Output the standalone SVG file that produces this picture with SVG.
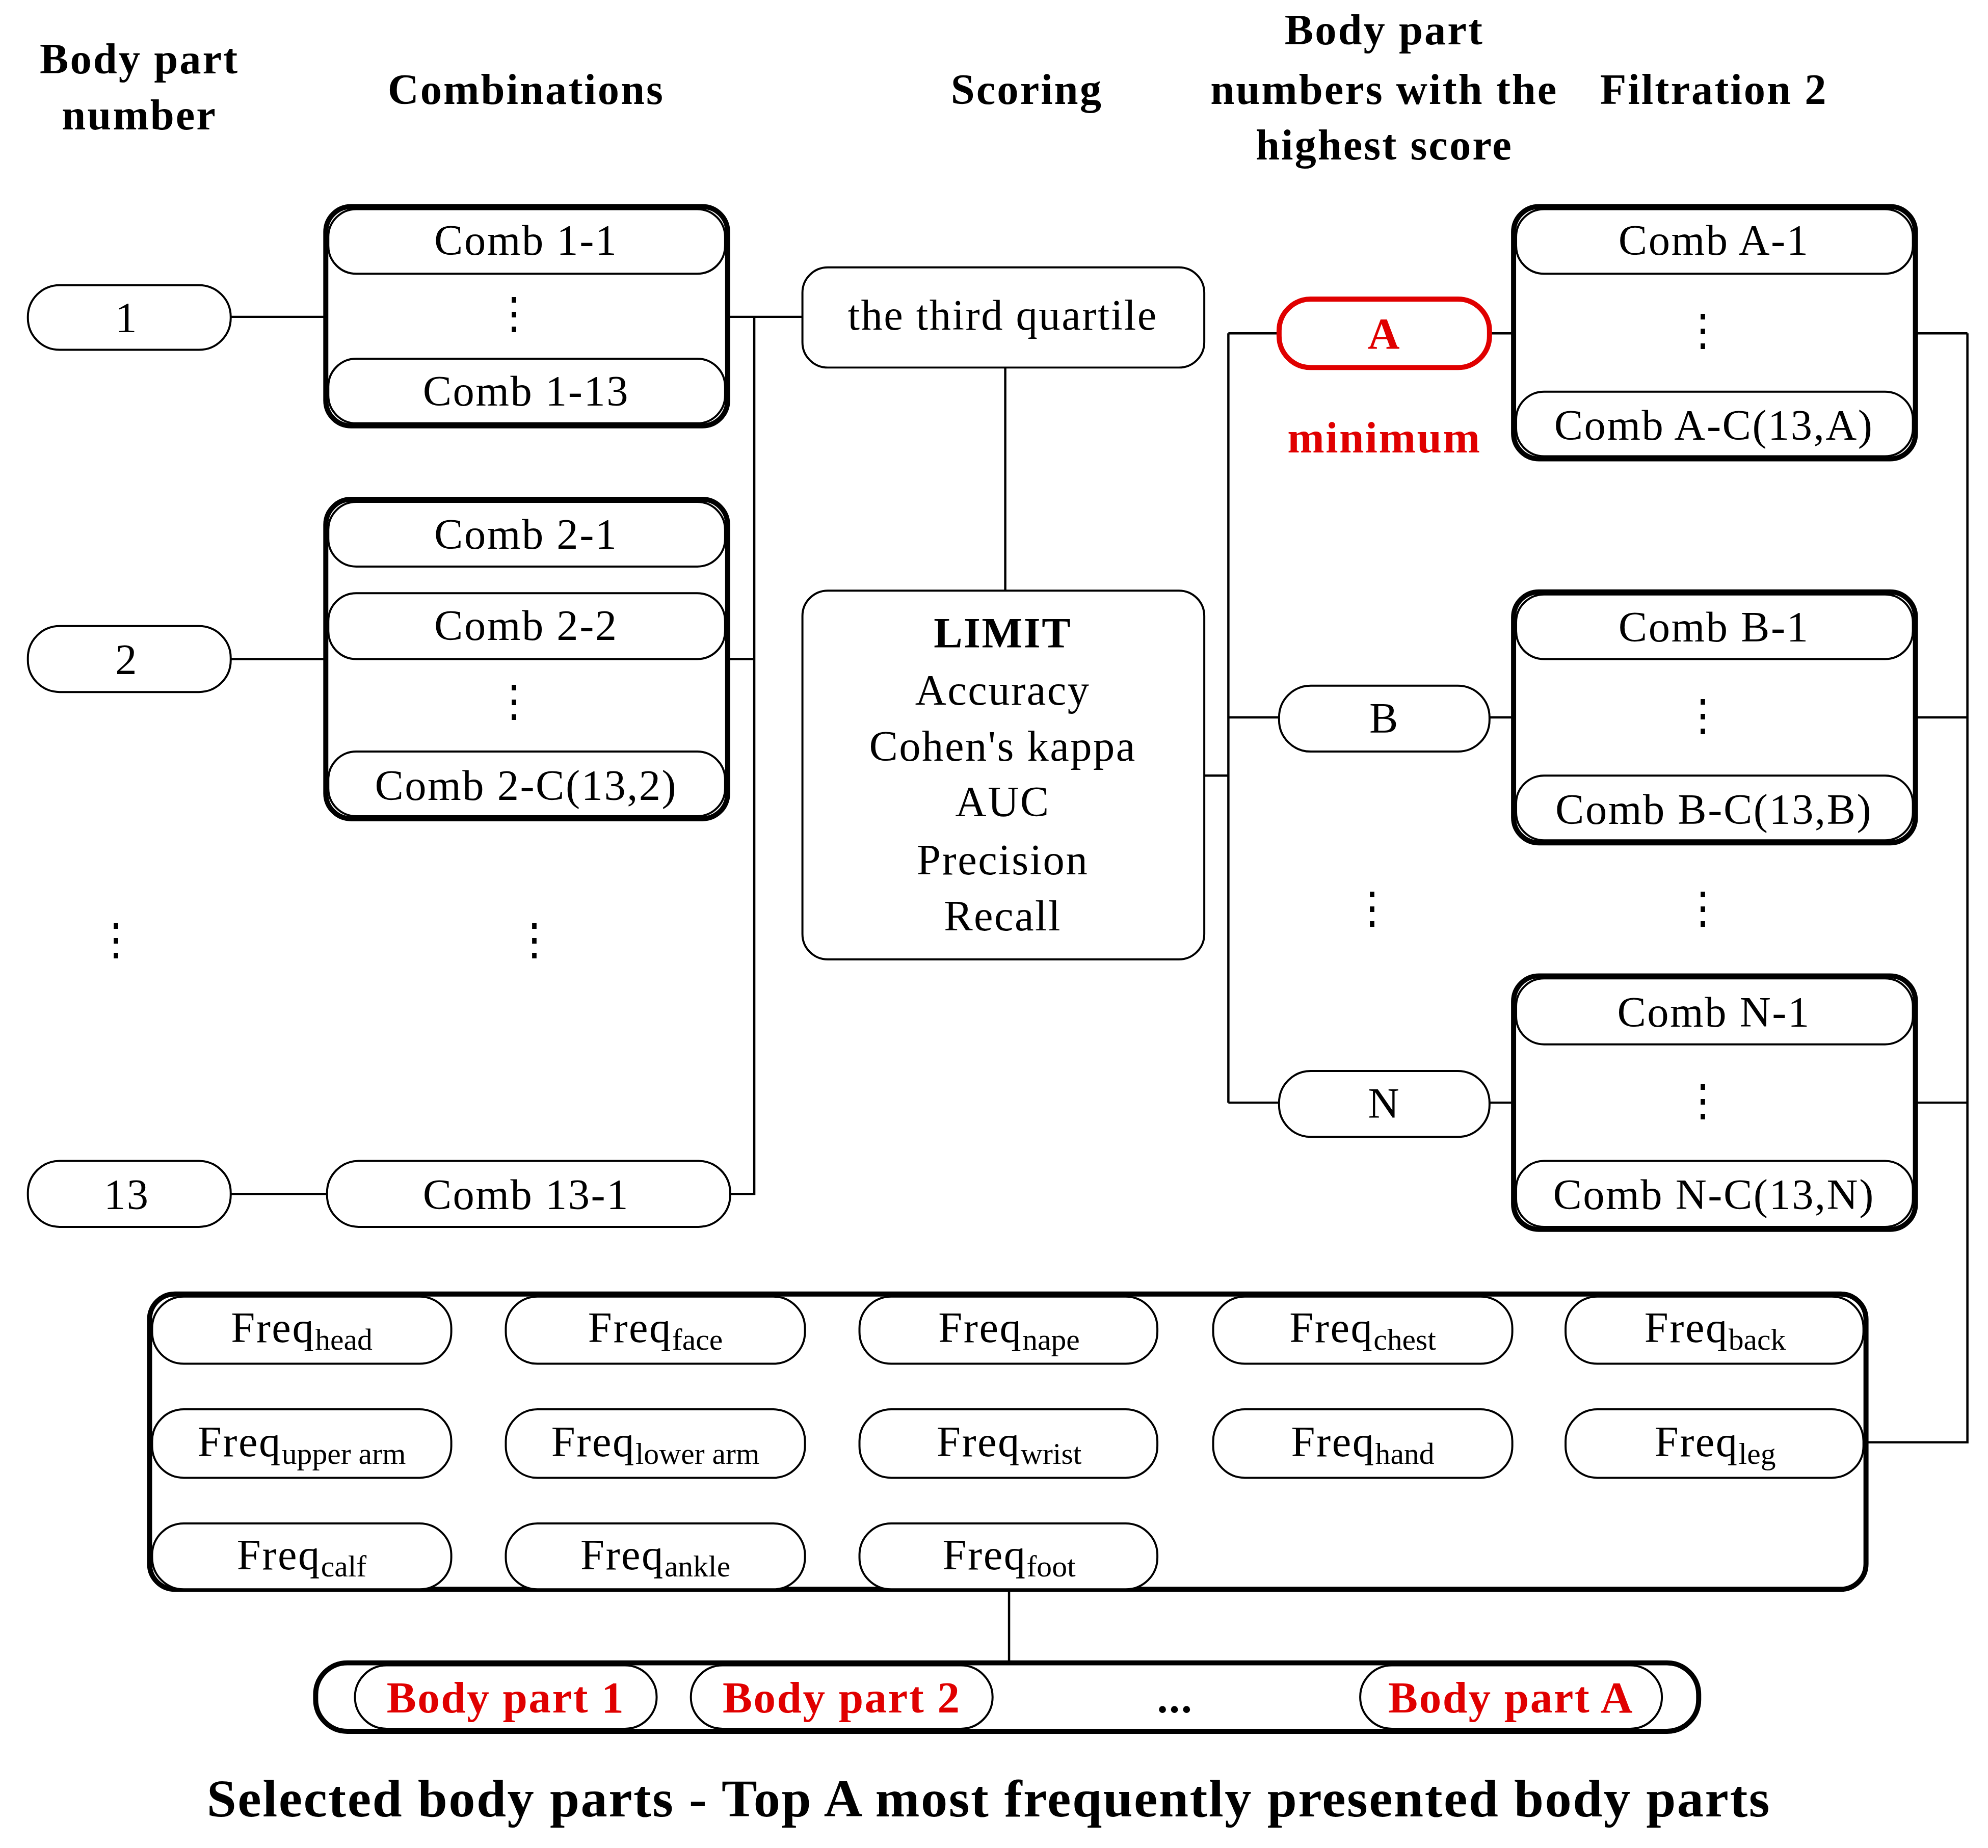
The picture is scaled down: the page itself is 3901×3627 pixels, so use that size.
<svg xmlns="http://www.w3.org/2000/svg" width="3901" height="3627" viewBox="0 0 3901 3627">
<style>
text{font-family:"Liberation Serif","Times New Roman",serif;fill:#000;text-anchor:middle;letter-spacing:1px}
.h{font-weight:bold;font-size:34px;letter-spacing:1.2px}
.t{font-size:34px}
.p{fill:#fff;stroke:#000;stroke-width:1.6}
.g{fill:#fff;stroke:#000;stroke-width:4}
.r{font-weight:bold;fill:#e00000;font-size:35px}
.c{fill:none;stroke:#000;stroke-width:1.8}
.s{font-size:24px;letter-spacing:0}
</style>
<rect width="3901" height="3627" fill="#fff"/>
<g transform="scale(2.4875)">
<g id="headers">
<text class="h" x="110" y="58">Body part</text><text class="h" x="110" y="102">number</text>
<text class="h" x="415" y="82">Combinations</text>
<text class="h" x="810" y="82">Scoring</text>
<text class="h" x="1092" y="35">Body part</text><text class="h" x="1092" y="82">numbers with the</text><text class="h" x="1092" y="126">highest score</text>
<text class="h" x="1352" y="82">Filtration 2</text>
</g>
<g id="connectors">
<path class="c" d="M182 250H257M182 520H257M182 942H258M574 250H595V942H576M574 520H595M595 250H633M793 290V466M950 612H969M969 263V870M969 263H1009M969 566H1009M969 870H1009M1175 263H1194M1175 566H1194M1175 870H1194M1511 263H1552M1511 566H1552M1511 870H1552M1552 263V1138H1472M796 1254V1312"/>
</g>
<g id="n1"><rect class="p" x="22" y="225" width="160" height="51" rx="25"/><text class="t" x="100" y="262">1</text></g>
<g id="n2"><rect class="p" x="22" y="494" width="160" height="52" rx="25"/><text class="t" x="100" y="532">2</text></g>
<g id="n13"><rect class="p" x="22" y="916" width="160" height="52" rx="25"/><text class="t" x="100" y="954">13</text></g>
<g id="dotsL"><text class="t" x="92" y="753">⋮</text><text class="t" x="422" y="753">⋮</text></g>
<g id="comb1"><rect class="g" x="257" y="163" width="317" height="173" rx="20"/>
<rect class="p" x="259" y="165" width="313" height="51" rx="22"/><text class="t" x="415" y="201">Comb 1-1</text>
<text class="t" x="406" y="259">⋮</text>
<rect class="p" x="259" y="283" width="313" height="51" rx="22"/><text class="t" x="415" y="320">Comb 1-13</text></g>
<g id="comb2"><rect class="g" x="257" y="394" width="317" height="252" rx="20"/>
<rect class="p" x="259" y="396" width="313" height="51" rx="22"/><text class="t" x="415" y="433">Comb 2-1</text>
<rect class="p" x="259" y="468" width="313" height="52" rx="22"/><text class="t" x="415" y="505">Comb 2-2</text>
<text class="t" x="406" y="565">⋮</text>
<rect class="p" x="259" y="593" width="313" height="51" rx="22"/><text class="t" x="415" y="631">Comb 2-C(13,2)</text></g>
<g id="comb13"><rect class="p" x="258" y="916" width="318" height="52" rx="25"/><text class="t" x="415" y="954">Comb 13-1</text></g>
<g id="q3"><rect class="p" x="633" y="211" width="317" height="79" rx="20"/><text class="t" x="791" y="260">the third quartile</text></g>
<g id="limit"><rect class="p" x="633" y="466" width="317" height="291" rx="20"/>
<text class="t" x="791" y="511" font-weight="bold">LIMIT</text><text class="t" x="791" y="556">Accuracy</text><text class="t" x="791" y="600">Cohen's kappa</text><text class="t" x="791" y="644">AUC</text><text class="t" x="791" y="690">Precision</text><text class="t" x="791" y="734">Recall</text></g>
<g id="nA"><rect x="1009" y="236" width="166" height="54" rx="25" fill="#fff" stroke="#e00000" stroke-width="4"/><text class="r" x="1092" y="275">A</text><text class="r" x="1092" y="357">minimum</text></g>
<g id="nB"><rect class="p" x="1009" y="541" width="166" height="52" rx="25"/><text class="t" x="1092" y="578">B</text></g>
<g id="dotsM"><text class="t" x="1083" y="728">⋮</text><text class="t" x="1344" y="728">⋮</text></g>
<g id="nN"><rect class="p" x="1009" y="845" width="166" height="52" rx="25"/><text class="t" x="1092" y="882">N</text></g>
<g id="fA"><rect class="g" x="1194" y="163" width="317" height="199" rx="20"/>
<rect class="p" x="1196" y="165" width="313" height="51" rx="22"/><text class="t" x="1352" y="201">Comb A-1</text>
<text class="t" x="1344" y="272">⋮</text>
<rect class="p" x="1196" y="309" width="313" height="51" rx="22"/><text class="t" x="1352" y="347">Comb A-C(13,A)</text></g>
<g id="fB"><rect class="g" x="1194" y="467" width="317" height="198" rx="20"/>
<rect class="p" x="1196" y="469" width="313" height="51" rx="22"/><text class="t" x="1352" y="506">Comb B-1</text>
<text class="t" x="1344" y="576">⋮</text>
<rect class="p" x="1196" y="612" width="313" height="51" rx="22"/><text class="t" x="1352" y="650">Comb B-C(13,B)</text></g>
<g id="fN"><rect class="g" x="1194" y="770" width="317" height="200" rx="20"/>
<rect class="p" x="1196" y="772" width="313" height="52" rx="22"/><text class="t" x="1352" y="810">Comb N-1</text>
<text class="t" x="1344" y="880">⋮</text>
<rect class="p" x="1196" y="916" width="313" height="52" rx="22"/><text class="t" x="1352" y="954">Comb N-C(13,N)</text></g>
<g id="freq"><rect class="g" x="118" y="1021" width="1354" height="233" rx="20"/>
<rect class="p" x="120" y="1023" width="236" height="53" rx="25"/><text class="t" x="238" y="1059">Freq<tspan class="s" dy="6">head</tspan></text>
<rect class="p" x="399" y="1023" width="236" height="53" rx="25"/><text class="t" x="517" y="1059">Freq<tspan class="s" dy="6">face</tspan></text>
<rect class="p" x="678" y="1023" width="235" height="53" rx="25"/><text class="t" x="796" y="1059">Freq<tspan class="s" dy="6">nape</tspan></text>
<rect class="p" x="957" y="1023" width="236" height="53" rx="25"/><text class="t" x="1075" y="1059">Freq<tspan class="s" dy="6">chest</tspan></text>
<rect class="p" x="1235" y="1023" width="235" height="53" rx="25"/><text class="t" x="1353" y="1059">Freq<tspan class="s" dy="6">back</tspan></text>
<rect class="p" x="120" y="1112" width="236" height="54" rx="25"/><text class="t" x="238" y="1149">Freq<tspan class="s" dy="6">upper arm</tspan></text>
<rect class="p" x="399" y="1112" width="236" height="54" rx="25"/><text class="t" x="517" y="1149">Freq<tspan class="s" dy="6">lower arm</tspan></text>
<rect class="p" x="678" y="1112" width="235" height="54" rx="25"/><text class="t" x="796" y="1149">Freq<tspan class="s" dy="6">wrist</tspan></text>
<rect class="p" x="957" y="1112" width="236" height="54" rx="25"/><text class="t" x="1075" y="1149">Freq<tspan class="s" dy="6">hand</tspan></text>
<rect class="p" x="1235" y="1112" width="235" height="54" rx="25"/><text class="t" x="1353" y="1149">Freq<tspan class="s" dy="6">leg</tspan></text>
<rect class="p" x="120" y="1202" width="236" height="52" rx="25"/><text class="t" x="238" y="1238">Freq<tspan class="s" dy="6">calf</tspan></text>
<rect class="p" x="399" y="1202" width="236" height="52" rx="25"/><text class="t" x="517" y="1238">Freq<tspan class="s" dy="6">ankle</tspan></text>
<rect class="p" x="678" y="1202" width="235" height="52" rx="25"/><text class="t" x="796" y="1238">Freq<tspan class="s" dy="6">foot</tspan></text></g>
<g id="selected"><rect class="g" x="249" y="1312" width="1091" height="54" rx="25"/>
<rect class="p" x="280" y="1314" width="238" height="50" rx="25"/><text class="r" x="399" y="1351">Body part 1</text>
<rect class="p" x="545" y="1314" width="238" height="50" rx="25"/><text class="r" x="664" y="1351">Body part 2</text>
<text class="t" x="927" y="1351" font-weight="bold">...</text>
<rect class="p" x="1073" y="1314" width="238" height="50" rx="25"/><text class="r" x="1192" y="1351">Body part A</text></g>
<g id="caption"><text x="780" y="1433" font-weight="bold" font-size="42" letter-spacing="1.5">Selected body parts - Top A most frequently presented body parts</text></g>
</g>
</svg>
